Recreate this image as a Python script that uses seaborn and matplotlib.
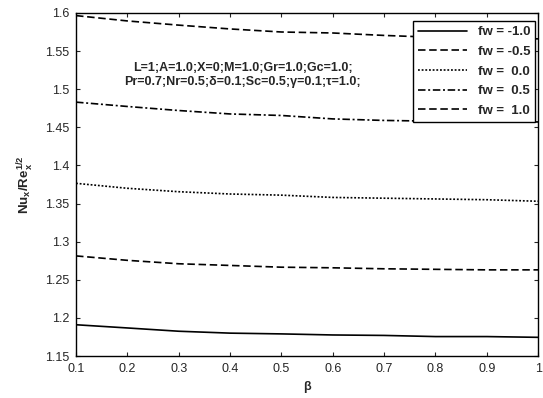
import matplotlib
matplotlib.use("Agg")
import matplotlib.pyplot as plt
import seaborn as sns
import pandas as pd

# Local Nusselt number vs. beta for several suction/injection values fw
beta = [0.1, 0.2, 0.3, 0.4, 0.5, 0.6, 0.7, 0.8, 0.9, 1.0]
nu_fw_m10 = [1.191, 1.1868, 1.1825, 1.180, 1.179, 1.1776, 1.177, 1.1755, 1.1755, 1.1745]
nu_fw_m05 = [1.2813, 1.2755, 1.271, 1.2688, 1.2665, 1.2657, 1.2644, 1.2637, 1.263, 1.263]
nu_fw_00 = [1.3765, 1.370, 1.3655, 1.3625, 1.361, 1.358, 1.357, 1.356, 1.355, 1.353]
nu_fw_05 = [1.483, 1.4773, 1.472, 1.4675, 1.4655, 1.461, 1.459, 1.458, 1.4577, 1.457]
nu_fw_10 = [1.5965, 1.5895, 1.584, 1.579, 1.575, 1.5737, 1.5705, 1.568, 1.567, 1.566]

series_labels = ["fw = -1.0", "fw = -0.5", "fw =  0.0", "fw =  0.5", "fw =  1.0"]
series_values = [nu_fw_m10, nu_fw_m05, nu_fw_00, nu_fw_05, nu_fw_10]
line_styles = ["-", (0, (4.5, 2.2)), (0, (1.1, 1.1)), (0, (4.5, 1.6, 1.2, 1.6)), (0, (4.5, 2.2))]

x_ticks = [0.1, 0.2, 0.3, 0.4, 0.5, 0.6, 0.7, 0.8, 0.9, 1.0]
x_tick_labels = ["0.1", "0.2", "0.3", "0.4", "0.5", "0.6", "0.7", "0.8", "0.9", "1"]
y_ticks = [1.15, 1.2, 1.25, 1.3, 1.35, 1.4, 1.45, 1.5, 1.55, 1.6]
y_tick_labels = ["1.15", "1.2", "1.25", "1.3", "1.35", "1.4", "1.45", "1.5", "1.55", "1.6"]

sns.set_style("ticks")
plt.rcParams["font.family"] = ["Liberation Sans", "DejaVu Sans"]
plt.rcParams["mathtext.fontset"] = "custom"
plt.rcParams["mathtext.rm"] = "Liberation Sans:bold"
plt.rcParams["mathtext.it"] = "Liberation Sans:bold"
plt.rcParams["mathtext.bf"] = "Liberation Sans:bold"

fig = plt.figure(figsize=(5.43, 3.98), dpi=100)
ax = fig.add_axes([0.140, 0.1055, 0.851, 0.862])

for lab, vals, ls in zip(series_labels, series_values, line_styles):
    df = pd.DataFrame({"beta": beta, "nu": vals})
    sns.lineplot(data=df, x="beta", y="nu", ax=ax, color="black",
                 linewidth=1.2, linestyle=ls, label=lab)

ax.set_xlim(0.1, 1.0)
ax.set_ylim(1.15, 1.6)
ax.set_xticks(x_ticks)
ax.set_xticklabels(x_tick_labels)
ax.set_yticks(y_ticks)
ax.set_yticklabels(y_tick_labels)
ax.tick_params(direction="in", top=True, right=True, length=3, width=0.8,
               labelsize=9, pad=5)
for sp in ax.spines.values():
    sp.set_linewidth(1.0)
    sp.set_color("black")

ax.set_xlabel("β", fontsize=9, fontweight="bold", labelpad=4)
ax.set_ylabel(r"$\mathbf{Nu_x/Re_x^{1/2}}$", fontsize=9.5, labelpad=6)

ax.text(0.425, 1.528, "L=1;A=1.0;X=0;M=1.0;Gr=1.0;Gc=1.0;",
        fontsize=9, fontweight="bold", ha="center", va="center")
ax.text(0.425, 1.509, "Pr=0.7;Nr=0.5;δ=0.1;Sc=0.5;γ=0.1;τ=1.0;",
        fontsize=9, fontweight="bold", ha="center", va="center")

leg = ax.legend(loc="upper right", bbox_to_anchor=(0.998, 0.982),
                frameon=True, fancybox=False, framealpha=1,
                edgecolor="black", handlelength=3.7, handletextpad=0.8,
                labelspacing=0.56, borderpad=0.38, borderaxespad=0.15,
                prop={"weight": "bold", "size": 9.5})
leg.get_frame().set_linewidth(1.0)

fig.savefig("out.png", dpi=100)
